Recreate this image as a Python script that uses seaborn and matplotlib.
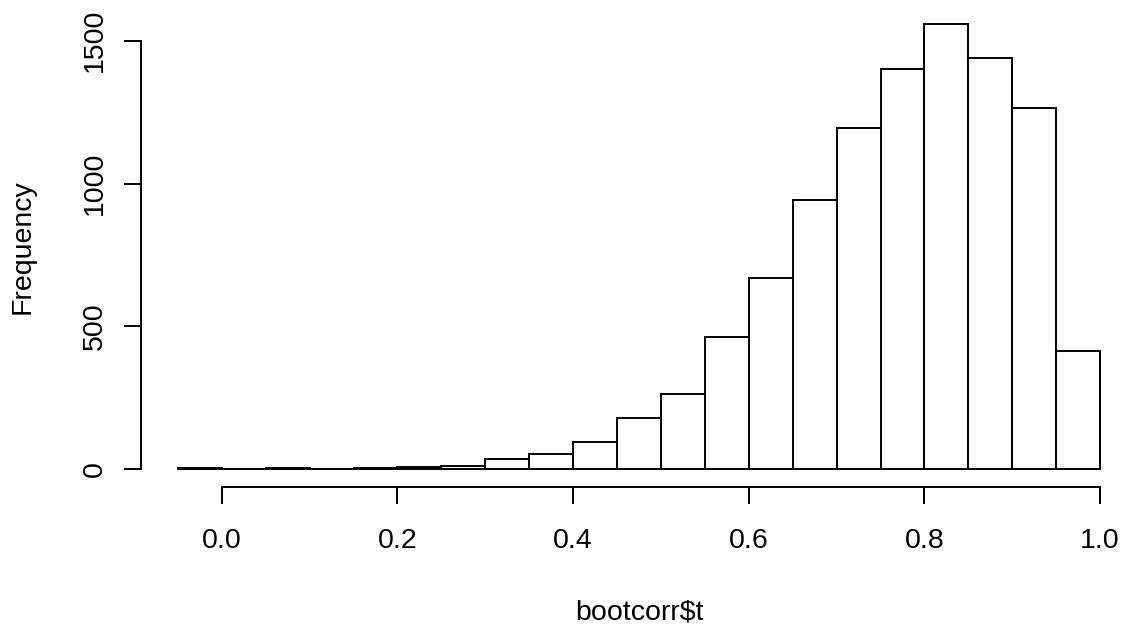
import matplotlib
matplotlib.use("Agg")
import matplotlib.pyplot as plt
import seaborn as sns

# bootstrap correlation histogram (R hist style)
bin_edges = [-0.05, 0.0, 0.05, 0.10, 0.15, 0.20, 0.25, 0.30, 0.35, 0.40, 0.45,
             0.50, 0.55, 0.60, 0.65, 0.70, 0.75, 0.80, 0.85, 0.90, 0.95, 1.00]
counts = [2, 1, 2, 1, 4, 7, 12, 35, 51, 95, 178,
          264, 464, 669, 943, 1193, 1402, 1558, 1441, 1266, 412]
x_ticks = [0.0, 0.2, 0.4, 0.6, 0.8, 1.0]
x_tick_labels = ["0.0", "0.2", "0.4", "0.6", "0.8", "1.0"]
y_ticks = [0, 500, 1000, 1500]

sns.set_style("white")
plt.rcParams["font.family"] = ["Liberation Sans", "DejaVu Sans"]
plt.rcParams["text.color"] = "black"

W, H = 1126, 627
fig = plt.figure(figsize=(W / 100, H / 100), dpi=100)

# plot region in pixels (R usr region)
left_px, right_px = 141, 1137
bottom_px, top_px = 486.8, 6.4
ax = fig.add_axes([left_px / W, 1 - bottom_px / H,
                   (right_px - left_px) / W, (bottom_px - top_px) / H])

centers = [(a + b) / 2 for a, b in zip(bin_edges[:-1], bin_edges[1:])]
sns.histplot(x=centers, weights=counts, bins=bin_edges, ax=ax,
             color="white", edgecolor="black", linewidth=1.4, alpha=1)

ymax = max(counts)
ax.set_xlim(-0.05 - 0.042, 1.0 + 0.042)
ax.set_ylim(-0.04 * ymax, 1.04 * ymax)

for side in ["top", "right"]:
    ax.spines[side].set_visible(False)
ax.spines["left"].set_bounds(0, 1500)
ax.spines["bottom"].set_bounds(0, 1)
for side in ["left", "bottom"]:
    ax.spines[side].set_linewidth(1.4)
    ax.spines[side].set_color("black")

ax.set_xticks(x_ticks)
ax.set_xticklabels(x_tick_labels)
ax.set_yticks(y_ticks)
ax.set_yticklabels([str(v) for v in y_ticks], rotation=90, va="center")
ax.tick_params(axis="both", direction="out", length=12.5, width=1.4,
               color="black", labelsize=20.5, labelcolor="black",
               bottom=True, left=True)
ax.tick_params(axis="x", pad=17)
ax.tick_params(axis="y", pad=11.5)
ax.set_xlabel("")
ax.set_ylabel("")
ax.grid(False)

fig.text(639 / W, 1 - 619 / H, "bootcorr$t", ha="center", va="baseline",
         fontsize=20.5, color="black", parse_math=False)
fig.text(23 / W, 1 - (top_px + bottom_px) / 2 / H, "Frequency", ha="center",
         va="center", rotation=90, fontsize=20.5, color="black")

fig.savefig("out.png", dpi=100, facecolor="white")
